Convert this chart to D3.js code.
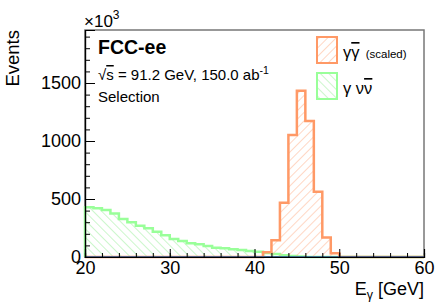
<!DOCTYPE html>
<html lang="en">
  <head>
    <meta charset="utf-8">
    <title>E gamma</title>
    <script type="text/javascript" src="https://d3js.org/d3.v7.min.js"></script>
    <style>
      body { margin: 0; background: #fff; }
      text { font-family: "Liberation Sans", Arial, sans-serif; }
    </style>
  </head>
  <body>
    <script type="text/javascript">
    var w = 447;
    var h = 303;

    // 1 GeV bins from 20 to 60
    var binLow = 20;
    var binWidth = 1;
    var nunuValues = [428, 420, 405, 376, 327, 299, 270, 247, 218, 188,
                      155, 138, 118, 109, 95, 80, 75, 66, 60, 52,
                      45, 35, 25, 15, 8, 4, 0, 0, 0, 0,
                      0, 0, 0, 0, 0, 0, 0, 0, 0, 0];
    var ggValues = [0, 0, 0, 0, 0, 0, 0, 0, 0, 0,
                    0, 0, 0, 0, 0, 0, 0, 0, 0, 0,
                    0, 40, 145, 468, 1052, 1434, 1172, 563, 168, 32,
                    0, 0, 0, 0, 0, 0, 0, 0, 0, 0];
    var xTicks = [20, 30, 40, 50, 60];
    var yTicks = [0, 500, 1000, 1500];

    var m = {left: 85, right: 23, top: 30, bottom: 46};
    var x = d3.scaleLinear().domain([20, 60]).range([m.left, w - m.right]);
    var y = d3.scaleLinear().domain([0, 1957]).range([h - m.bottom, m.top]);

    var svg = d3.select("body").append("svg").attr("width", w).attr("height", h);
    var defs = svg.append("defs");

    function hatch(id, color, angle) {
      var p = defs.append("pattern")
        .attr("id", id)
        .attr("patternUnits", "userSpaceOnUse")
        .attr("width", 6).attr("height", 6)
        .attr("patternTransform", "rotate(" + angle + ")");
      p.append("line").attr("x1", 0).attr("y1", 0).attr("x2", 0).attr("y2", 6)
        .attr("stroke", color).attr("stroke-width", 1);
    }
    hatch("hatchOrange", "#ffb08a", 45);
    hatch("hatchGreen", "#99ee99", -45);

    // frame
    svg.append("rect")
      .attr("x", x(20)).attr("y", y(1957))
      .attr("width", x(60) - x(20)).attr("height", y(0) - y(1957))
      .attr("fill", "none").attr("stroke", "#777").attr("stroke-width", 1.5);

    function histPath(vals) {
      var pts = [[x(binLow), y(0)]];
      vals.forEach(function(v, i) {
        pts.push([x(binLow + i * binWidth), y(v)]);
        pts.push([x(binLow + (i + 1) * binWidth), y(v)]);
      });
      pts.push([x(binLow + vals.length * binWidth), y(0)]);
      return d3.line()(pts);
    }

    var hists = [
      {vals: nunuValues, fill: "url(#hatchGreen)", stroke: "#99ff99"},
      {vals: ggValues, fill: "url(#hatchOrange)", stroke: "#ff9966"}
    ];
    hists.forEach(function(hd) {
      svg.append("path").attr("d", histPath(hd.vals))
        .attr("fill", hd.fill).attr("stroke", "none");
      svg.append("path").attr("d", histPath(hd.vals))
        .attr("fill", "none").attr("stroke", hd.stroke)
        .attr("stroke-width", 2.5).attr("stroke-linejoin", "miter");
    });

    // zero line
    svg.append("line")
      .attr("x1", x(20)).attr("x2", x(60)).attr("y1", y(0)).attr("y2", y(0))
      .attr("stroke", "#1f4e8c").attr("stroke-width", 1.5);

    // axes
    var xAxis = d3.axisBottom(x).tickValues(xTicks).tickSize(-8).tickPadding(4)
      .tickFormat(d3.format("d"));
    var xMinor = d3.axisBottom(x).tickValues(d3.range(20, 61, 2)).tickSize(-4).tickFormat("");
    var yAxis = d3.axisLeft(y).tickValues(yTicks).tickSize(-10).tickPadding(4)
      .tickFormat(d3.format("d"));
    var yMinor = d3.axisLeft(y).tickValues(d3.range(0, 1957, 100)).tickSize(-5).tickFormat("");

    function styleAxis(g) {
      g.select(".domain").attr("stroke", "#000").attr("stroke-width", 1.2);
      g.selectAll(".tick line").attr("stroke", "#000").attr("stroke-width", 1);
      g.selectAll(".tick text").attr("font-size", 18).attr("fill", "#000")
        .attr("font-family", "Liberation Sans, Arial, sans-serif");
    }
    svg.append("g").attr("transform", "translate(0," + y(0) + ")").call(xMinor).call(styleAxis);
    svg.append("g").attr("transform", "translate(0," + y(0) + ")").call(xAxis).call(styleAxis);
    svg.append("g").attr("transform", "translate(" + x(20) + ",0)").call(yMinor).call(styleAxis);
    svg.append("g").attr("transform", "translate(" + x(20) + ",0)").call(yAxis).call(styleAxis);

    // axis titles
    svg.append("text")
      .attr("transform", "translate(19," + m.top + ") rotate(-90)")
      .attr("text-anchor", "end").attr("font-size", 18.5).text("Events");

    var xt = svg.append("text").attr("x", x(60)).attr("y", 295)
      .attr("text-anchor", "end").attr("font-size", 18);
    xt.append("tspan").text("E");
    xt.append("tspan").attr("font-size", 12.5).attr("dy", 4).text("\u03b3");
    xt.append("tspan").attr("dy", -4).text(" [GeV]");

    var ex = svg.append("text").attr("x", x(20) - 1).attr("y", 27).attr("font-size", 17);
    ex.append("tspan").text("\u00d710");
    ex.append("tspan").attr("font-size", 12).attr("dy", -8).text("3");

    // labels
    svg.append("text").attr("x", 98).attr("y", 54)
      .attr("font-size", 19.5).attr("font-weight", "bold").text("FCC-ee");
    var en = svg.append("text").attr("x", 98).attr("y", 80).attr("font-size", 15);
    en.append("tspan").text("\u221a");
    en.append("tspan").style("text-decoration", "overline").text("s");
    en.append("tspan").text(" = 91.2 GeV, 150.0 ab");
    en.append("tspan").attr("font-size", 10.5).attr("dy", -6).text("-1");
    svg.append("text").attr("x", 98).attr("y", 102).attr("font-size", 15).text("Selection");

    // legend
    var legend = [
      {main: "\u03b3", bar: "\u03b3", extra: " (scaled)", fill: "url(#hatchOrange)", stroke: "#ff9966"},
      {main: "\u03b3  \u03bd", bar: "\u03bd", extra: "", fill: "url(#hatchGreen)", stroke: "#99ff99"}
    ];
    legend.forEach(function(d, i) {
      var ly = 37 + i * 36;
      svg.append("rect").attr("x", 317).attr("y", ly).attr("width", 20).attr("height", 26)
        .attr("fill", d.fill).attr("stroke", d.stroke).attr("stroke-width", 2);
      var t = svg.append("text").attr("x", 343).attr("y", ly + 21).attr("font-size", 16.5);
      t.append("tspan").text(d.main);
      t.append("tspan").style("text-decoration", "overline").text(d.bar);
      if (d.extra) t.append("tspan").attr("font-size", 11.5).attr("dx", 3).text(d.extra);
    });
    </script>
  </body>
</html>
